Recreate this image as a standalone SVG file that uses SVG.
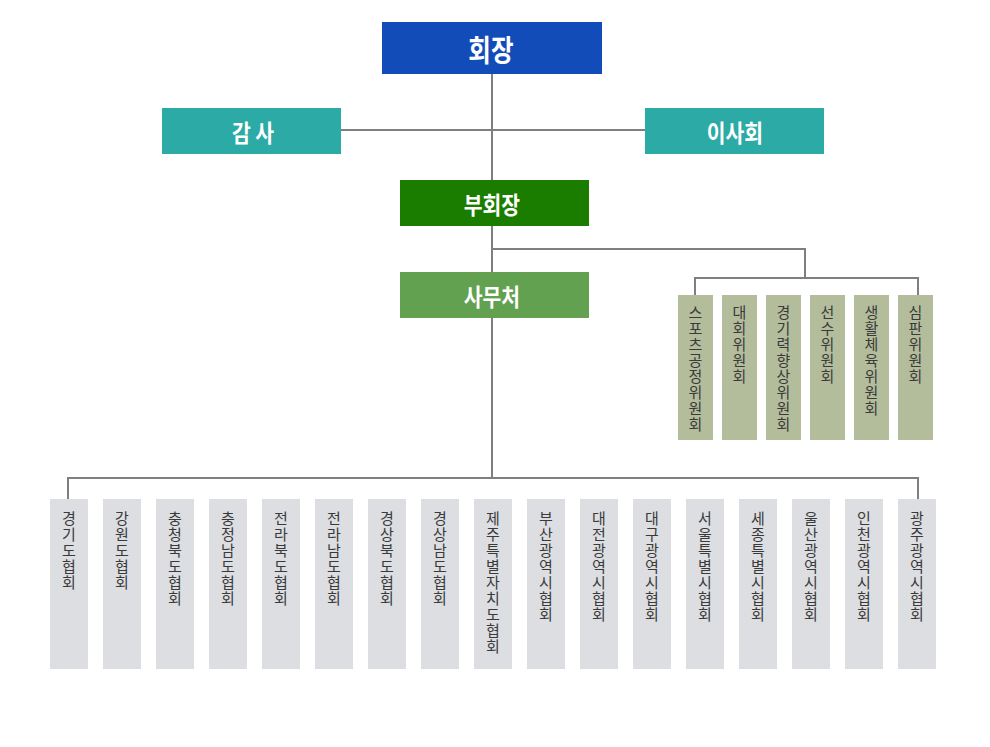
<svg xmlns="http://www.w3.org/2000/svg" width="990" height="747" viewBox="0 0 990 747">
<style>
.t{font-family:"Noto Sans CJK KR","Noto Sans",sans-serif;font-weight:bold;fill:#fff;text-anchor:middle;dominant-baseline:central}
.v{font-family:"Noto Sans CJK KR","Noto Sans",sans-serif;font-size:15px;fill:#3a3a3a;writing-mode:vertical-rl;letter-spacing:1px}
.c{fill:#b3bd9c}
.p{fill:#dcdee2}
.ln{stroke:#7f7f7f;stroke-width:2;fill:none}
</style>
<rect width="990" height="747" fill="#fff"/>
<g id="connectors" class="ln">
<path d="M492 74V478"/>
<path d="M341 130H645"/>
<path d="M492 249H805V278"/>
<path d="M695 295V278H918V295"/>
<path d="M68 499V478H918V499"/>
</g>
<g id="n-president"><rect x="382" y="22" width="220" height="52" fill="#124cb9"/><text class="t" transform="matrix(0.82 0 0 1 491 48)" font-size="30">회장</text></g>
<g id="n-audit"><rect x="162" y="108" width="179" height="46" fill="#2caaa6"/><text class="t" transform="matrix(0.85 0 0 1 253 131)" font-size="24">감 사</text></g>
<g id="n-board"><rect x="645" y="108" width="179" height="46" fill="#2caaa6"/><text class="t" transform="matrix(0.85 0 0 1 735 131)" font-size="24">이사회</text></g>
<g id="n-vp"><rect x="400" y="180" width="189" height="46" fill="#1a7d00"/><text class="t" transform="matrix(0.85 0 0 1 492 203.5)" font-size="24">부회장</text></g>
<g id="n-office"><rect x="400" y="272" width="189" height="46" fill="#62a150"/><text class="t" transform="matrix(0.85 0 0 1 492 295.5)" font-size="24">사무처</text></g>
<g id="committees">
<g id="c1"><rect class="c" x="678" y="295" width="35" height="145"/><text class="v" x="695.5" y="305">스포츠공정위원회</text></g>
<g id="c2"><rect class="c" x="722" y="295" width="35" height="145"/><text class="v" x="739.5" y="305">대회위원회</text></g>
<g id="c3"><rect class="c" x="766" y="295" width="35" height="145"/><text class="v" x="783.5" y="305">경기력향상위원회</text></g>
<g id="c4"><rect class="c" x="810" y="295" width="35" height="145"/><text class="v" x="827.5" y="305">선수위원회</text></g>
<g id="c5"><rect class="c" x="854" y="295" width="35" height="145"/><text class="v" x="871.5" y="305">생활체육위원회</text></g>
<g id="c6"><rect class="c" x="898" y="295" width="35" height="145"/><text class="v" x="915.5" y="305">심판위원회</text></g>
</g>
<g id="associations">
<g id="a1"><rect class="p" x="50" y="499" width="38" height="170"/><text class="v" x="69" y="511">경기도협회</text></g>
<g id="a2"><rect class="p" x="103" y="499" width="38" height="170"/><text class="v" x="122" y="511">강원도협회</text></g>
<g id="a3"><rect class="p" x="156" y="499" width="38" height="170"/><text class="v" x="175" y="511">충청북도협회</text></g>
<g id="a4"><rect class="p" x="209" y="499" width="38" height="170"/><text class="v" x="228" y="511">충정남도협회</text></g>
<g id="a5"><rect class="p" x="262" y="499" width="38" height="170"/><text class="v" x="281" y="511">전라북도협회</text></g>
<g id="a6"><rect class="p" x="315" y="499" width="38" height="170"/><text class="v" x="334" y="511">전라남도협회</text></g>
<g id="a7"><rect class="p" x="368" y="499" width="38" height="170"/><text class="v" x="387" y="511">경상북도협회</text></g>
<g id="a8"><rect class="p" x="421" y="499" width="38" height="170"/><text class="v" x="440" y="511">경상남도협회</text></g>
<g id="a9"><rect class="p" x="474" y="499" width="38" height="170"/><text class="v" x="493" y="511">제주특별자치도협회</text></g>
<g id="a10"><rect class="p" x="527" y="499" width="38" height="170"/><text class="v" x="546" y="511">부산광역시협회</text></g>
<g id="a11"><rect class="p" x="580" y="499" width="38" height="170"/><text class="v" x="599" y="511">대전광역시협회</text></g>
<g id="a12"><rect class="p" x="633" y="499" width="38" height="170"/><text class="v" x="652" y="511">대구광역시협회</text></g>
<g id="a13"><rect class="p" x="686" y="499" width="38" height="170"/><text class="v" x="705" y="511">서울특별시협회</text></g>
<g id="a14"><rect class="p" x="739" y="499" width="38" height="170"/><text class="v" x="758" y="511">세종특별시협회</text></g>
<g id="a15"><rect class="p" x="792" y="499" width="38" height="170"/><text class="v" x="811" y="511">울산광역시협회</text></g>
<g id="a16"><rect class="p" x="845" y="499" width="38" height="170"/><text class="v" x="864" y="511">인천광역시협회</text></g>
<g id="a17"><rect class="p" x="898" y="499" width="38" height="170"/><text class="v" x="917" y="511">광주광역시협회</text></g>
</g>
</svg>
